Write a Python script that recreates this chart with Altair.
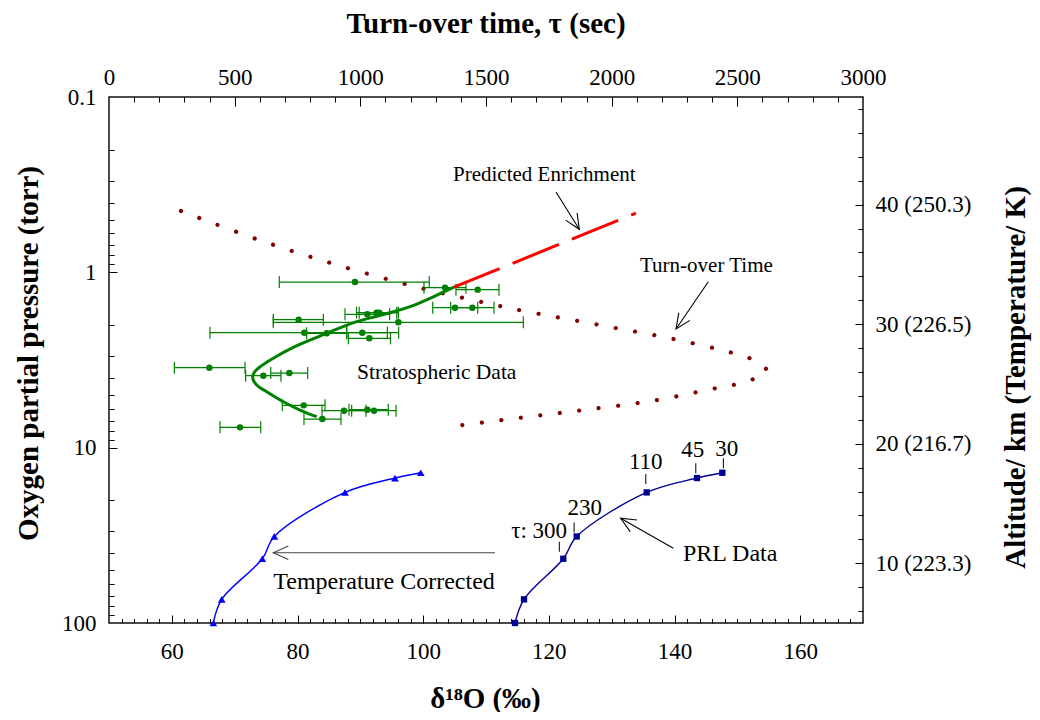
import altair as alt
import pandas as pd

FONT = "Liberation Serif"
GREEN = "#008000"
RED = "#FF0000"
MAROON = "#800000"
BLUE = "#0000FF"
NAVY = "#000090"

W, H = 754, 526
X_DOM = [50, 170]
TAU_DOM = [0, 3000]
P_DOM = [0.1, 100]
ALT_DOM = [5, 49]

# ---------------- data ----------------
# Stratospheric data (delta18O, pressure, error bar low/high)
strat_d18o = [89.15, 103.48, 108.68, 105.07, 107.83, 91.11, 92.60, 93.02, 96.05, 80.18, 81.09, 84.65,
              90.31, 91.43, 65.97, 74.56, 78.70, 80.99, 83.95, 87.40, 91.11, 92.18, 70.85]
strat_p = [1.136, 1.223, 1.255, 1.590, 1.590, 1.736, 1.698, 1.698, 1.929, 1.862, 2.208, 2.227,
           2.208, 2.379, 3.497, 3.884, 3.753, 5.738, 6.869, 6.151, 6.071, 6.151, 7.660]
strat_lo = [77.10, 100.13, 105.22, 101.52, 104.38, 87.56, 89.40, 89.82, 76.15, 76.15, 66.07, 81.46,
            87.83, 88.10, 60.40, 71.75, 75.74, 77.58, 81.03, 83.90, 88.20, 88.62, 67.67]
strat_hi = [100.97, 106.82, 112.07, 108.68, 111.27, 94.66, 95.79, 96.05, 115.94, 84.11, 96.10, 87.83,
            94.30, 94.80, 71.65, 77.37, 81.62, 84.38, 86.92, 90.90, 94.45, 95.68, 74.14]

# fitted curve through stratospheric data
fit_d18o = [83.06, 80.40, 77.74, 75.10, 73.51, 72.87, 73.08, 74.03, 76.15, 79.33, 83.06, 86.24,
            89.42, 93.66, 97.91, 101.61, 104.80]
fit_p = [6.66, 6.10, 5.47, 4.80, 4.39, 4.02, 3.74, 3.46, 3.09, 2.68, 2.35, 2.11,
         1.91, 1.74, 1.57, 1.38, 1.22]

# predicted enrichment (dashed)
pred_d18o = [104.80, 133.87]
pred_p = [1.22, 0.459]

# turn-over time (top axis, seconds)
tau_sec = [286.5, 588.9, 891.2, 1193.6, 1496, 1646, 1953.6, 2252, 2478.8, 2553, 2618,
           2542.5, 2466.9, 2391, 2165.6, 1863.3, 1562.4, 1334]
tau_p = [0.447, 0.648, 0.893, 1.181, 1.491, 1.656, 2.00, 2.41, 2.875, 3.11, 3.66,
         4.17, 4.44, 4.65, 5.40, 6.16, 6.96, 7.66]

# PRL data and temperature corrected
prl_p = [13.9, 14.9, 18.0, 32.1, 43.0, 73.3, 100]
prl_d18o = [147.61, 143.58, 135.58, 124.43, 122.30, 116.05, 114.62]
tc_d18o = [99.61, 95.52, 87.56, 76.31, 74.40, 67.94, 66.60]

# turn-over time labels on PRL curve
tau_lab_text = ["τ: 300", "230", "110", "45", "30"]
tau_lab_d18o = [118.45, 125.72, 135.43, 142.91, 148.30]
tau_lab_p = [32.74, 24.22, 13.29, 11.26, 11.16]
tau_tick_d18o = [121.67, 124.02, 135.43, 143.39, 147.78]
tau_tick_p = [36.72, 28.54, 15.09, 13.11, 12.28]

# annotations
note_text = ["Predicted Enrichment", "Turn-over Time", "Stratospheric Data", "PRL Data", "Temperature Corrected"]
note_d18o = [104.75, 134.51, 89.47, 141.35, 76.15]
note_p = [0.2786, 0.920, 3.752, 40.4, 58.15]
note_size = [21, 21, 21.5, 24, 24]

arrow_from_d18o = [121.14, 145.38, 139.81, 111.43]
arrow_from_p = [0.348, 1.131, 37.5, 39.72]
arrow_to_d18o = [124.85, 140.24, 131.42, 76.15]
arrow_to_p = [0.568, 2.105, 25.28, 39.72]
arrow_angle = [58, 124, 210, 180]
arrow_color = ["#000000", "#000000", "#000000", "#444444"]

# axes
bottom_labels = [60, 80, 100, 120, 140, 160]
bottom_minor = list(range(52, 170, 2))
top_labels = [0, 500, 1000, 1500, 2000, 2500, 3000]
top_major = [500, 1000, 1500, 2000, 2500]
top_minor = list(range(100, 3000, 100))
left_labels = [0.1, 1, 10, 100]
left_major = [1, 10]
left_minor = [0.2, 0.3, 0.4, 0.5, 0.6, 0.7, 0.8, 0.9, 2, 3, 4, 5, 6, 7, 8, 9,
              20, 30, 40, 50, 60, 70, 80, 90]
right_labels = [10, 20, 30, 40]
right_temps = ["223.3", "216.7", "226.5", "250.3"]
right_minor = list(range(6, 49, 2))

# ---------------- helpers ----------------
def X(field, axis=None):
    return alt.X(f"{field}:Q", scale=alt.Scale(domain=X_DOM, nice=False, zero=False), axis=axis)

def T(field, axis=None):
    return alt.X(f"{field}:Q", scale=alt.Scale(domain=TAU_DOM, nice=False, zero=False), axis=axis)

def P(field, axis=None):
    return alt.Y(f"{field}:Q", scale=alt.Scale(type="log", domain=P_DOM, reverse=True, nice=False), axis=axis)

def A(field, axis=None):
    return alt.Y(f"{field}:Q", scale=alt.Scale(domain=ALT_DOM, nice=False, zero=False), axis=axis)

def tick_axis(orient, values, size):
    return alt.Axis(orient=orient, values=values, labels=False, ticks=True, tickSize=size,
                    offset=-size, title=None, tickWidth=1, tickColor="black", domain=False, grid=False)

# ---------------- frames ----------------
strat = pd.DataFrame({"d": strat_d18o, "p": strat_p, "lo": strat_lo, "hi": strat_hi})
caps = pd.DataFrame({"d": strat_lo + strat_hi, "p": strat_p + strat_p})
fit = pd.DataFrame({"d": fit_d18o, "p": fit_p, "i": list(range(len(fit_p)))})
pred = pd.DataFrame({"d": pred_d18o, "p": pred_p})
tau = pd.DataFrame({"t": tau_sec, "p": tau_p, "i": list(range(len(tau_p)))})
prl = pd.DataFrame({"d": prl_d18o, "p": prl_p, "i": list(range(len(prl_p)))})
tc = pd.DataFrame({"d": tc_d18o, "p": prl_p, "i": list(range(len(prl_p)))})
tlab = pd.DataFrame({"d": tau_lab_d18o, "p": tau_lab_p, "s": tau_lab_text})
ttick = pd.DataFrame({"d": tau_tick_d18o, "p": tau_tick_p})
notes = pd.DataFrame({"d": note_d18o, "p": note_p, "s": note_text, "fs": note_size})
arrows = pd.DataFrame({
    "id": list(range(4)) * 2,
    "k": [0] * 4 + [1] * 4,
    "d": arrow_from_d18o + arrow_to_d18o,
    "p": arrow_from_p + arrow_to_p,
    "c": arrow_color * 2,
})
heads = pd.DataFrame({"d": arrow_to_d18o, "p": arrow_to_p, "a": arrow_angle, "c": arrow_color})
adf = pd.DataFrame({"x": [100], "t": [1500], "p": [1.0], "a": [20]})

# ---------------- layers ----------------
layers = []

layers.append(alt.Chart(tau).mark_line(color=MAROON, strokeWidth=4.2, strokeCap="round",
                                       strokeDash=[0.01, 19.6], interpolate="catmull-rom")
              .encode(x=T("t"), y=P("p"), order=alt.Order("i:Q")))

layers.append(alt.Chart(strat).mark_rule(color=GREEN, strokeWidth=1.2)
              .encode(x=X("lo"), x2=alt.X2("hi"), y=P("p")))
layers.append(alt.Chart(caps).mark_tick(color=GREEN, orient="vertical", size=12, thickness=1.2, opacity=1)
              .encode(x=X("d"), y=P("p")))
layers.append(alt.Chart(strat).mark_point(color=GREEN, filled=True, shape="circle", size=42, opacity=1)
              .encode(x=X("d"), y=P("p")))
layers.append(alt.Chart(fit).mark_line(color=GREEN, strokeWidth=3, interpolate="catmull-rom")
              .encode(x=X("d"), y=P("p"), order=alt.Order("i:Q")))
layers.append(alt.Chart(pred).mark_line(color=RED, strokeWidth=3, strokeDash=[50, 14])
              .encode(x=X("d"), y=P("p")))

layers.append(alt.Chart(tc).mark_line(color=BLUE, strokeWidth=1.4, interpolate="catmull-rom")
              .encode(x=X("d"), y=P("p"), order=alt.Order("i:Q")))
layers.append(alt.Chart(tc).mark_point(color=BLUE, filled=True, shape="triangle-up", size=60, opacity=1)
              .encode(x=X("d"), y=P("p")))
layers.append(alt.Chart(prl).mark_line(color=NAVY, strokeWidth=1.4, interpolate="catmull-rom")
              .encode(x=X("d"), y=P("p"), order=alt.Order("i:Q")))
layers.append(alt.Chart(prl).mark_point(color=NAVY, filled=True, shape="square", size=40, opacity=1)
              .encode(x=X("d"), y=P("p")))

layers.append(alt.Chart(ttick).mark_tick(color="black", orient="vertical", size=10, thickness=1, opacity=1)
              .encode(x=X("d"), y=P("p")))
layers.append(alt.Chart(tlab).mark_text(font=FONT, fontSize=23, align="center", baseline="alphabetic", color="black")
              .encode(x=X("d"), y=P("p"), text="s:N"))
layers.append(alt.Chart(notes).mark_text(font=FONT, align="left", baseline="middle", color="black")
              .encode(x=X("d"), y=P("p"), text="s:N", size=alt.Size("fs:Q", scale=None)))

layers.append(alt.Chart(arrows).mark_line(strokeWidth=1.1)
              .encode(x=X("d"), y=P("p"), detail="id:N", order=alt.Order("k:Q"),
                      color=alt.Color("c:N", scale=None)))
layers.append(alt.Chart(heads).mark_point(shape="M-1,-0.45L0,0L-1,0.45", filled=False, size=900,
                                          strokeWidth=1.1, opacity=1)
              .encode(x=X("d"), y=P("p"), angle=alt.Angle("a:Q", scale=None),
                      color=alt.Color("c:N", scale=None)))

# axis layers
right_expr = " : ".join(
    [f"datum.value == {v} ? '{v} ({t})'" for v, t in zip(right_labels, right_temps)]
) + " : ''"

bottom_lab = alt.Axis(orient="bottom", values=bottom_labels, format="d", ticks=False, labelPadding=17,
                      title="δ¹⁸O (‰)", titleX=376, titleY=84, titleAlign="center",
                      titleBaseline="alphabetic", titleAngle=0)
left_lab = alt.Axis(orient="left", values=left_labels, format="~g", ticks=False, labelPadding=13,
                    title="Oxygen partial pressure (torr)", titleAngle=270, titleX=-72, titleY=256,
                    titleAlign="center", titleBaseline="alphabetic")
top_lab = alt.Axis(orient="top", values=top_labels, format="d", ticks=False, labelPadding=8,
                   title="Turn-over time, τ (sec)", titleX=376.5, titleY=-65, titleAlign="center",
                   titleBaseline="alphabetic", titleAngle=0)
right_lab = alt.Axis(orient="right", values=right_labels, labelExpr=right_expr, ticks=False, labelPadding=12,
                     title="Altitude/ km (Temperature/ K)", titleAngle=270, titleX=161, titleY=280,
                     titleAlign="center", titleBaseline="alphabetic")

def axis_layer(xenc, yenc):
    return alt.Chart(adf).mark_point(opacity=0).encode(x=xenc, y=yenc)

layers.append(axis_layer(X("x", bottom_lab), P("p", left_lab)))
layers.append(axis_layer(X("x", tick_axis("bottom", bottom_labels, 8)), P("p", tick_axis("left", left_major, 8))))
layers.append(axis_layer(X("x", tick_axis("bottom", bottom_minor, 4.5)), P("p", tick_axis("left", left_minor, 5))))
layers.append(axis_layer(T("t", top_lab), A("a", right_lab)))
layers.append(axis_layer(T("t", tick_axis("top", top_major, 9)), A("a", tick_axis("right", right_labels, 8))))
layers.append(axis_layer(T("t", tick_axis("top", top_minor, 5)), A("a", tick_axis("right", right_minor, 5))))

chart = (
    alt.layer(*layers)
    .resolve_scale(x="independent", y="independent")
    .properties(width=W, height=H,
                padding={"left": 101, "top": 89, "right": 169, "bottom": 89},
                autosize=alt.AutoSizeParams(type="none"))
    .configure_view(stroke="#111111", strokeWidth=1.5)
    .configure_axis(labelFont=FONT, labelFontSize=23, labelColor="black",
                    titleFont=FONT, titleFontSize=29, titleFontWeight="bold", titleColor="black",
                    grid=False, domain=False, labelFlush=False, labelOverlap=False)
)

chart.save("out.html", embed_options={"renderer": "svg", "actions": False})
